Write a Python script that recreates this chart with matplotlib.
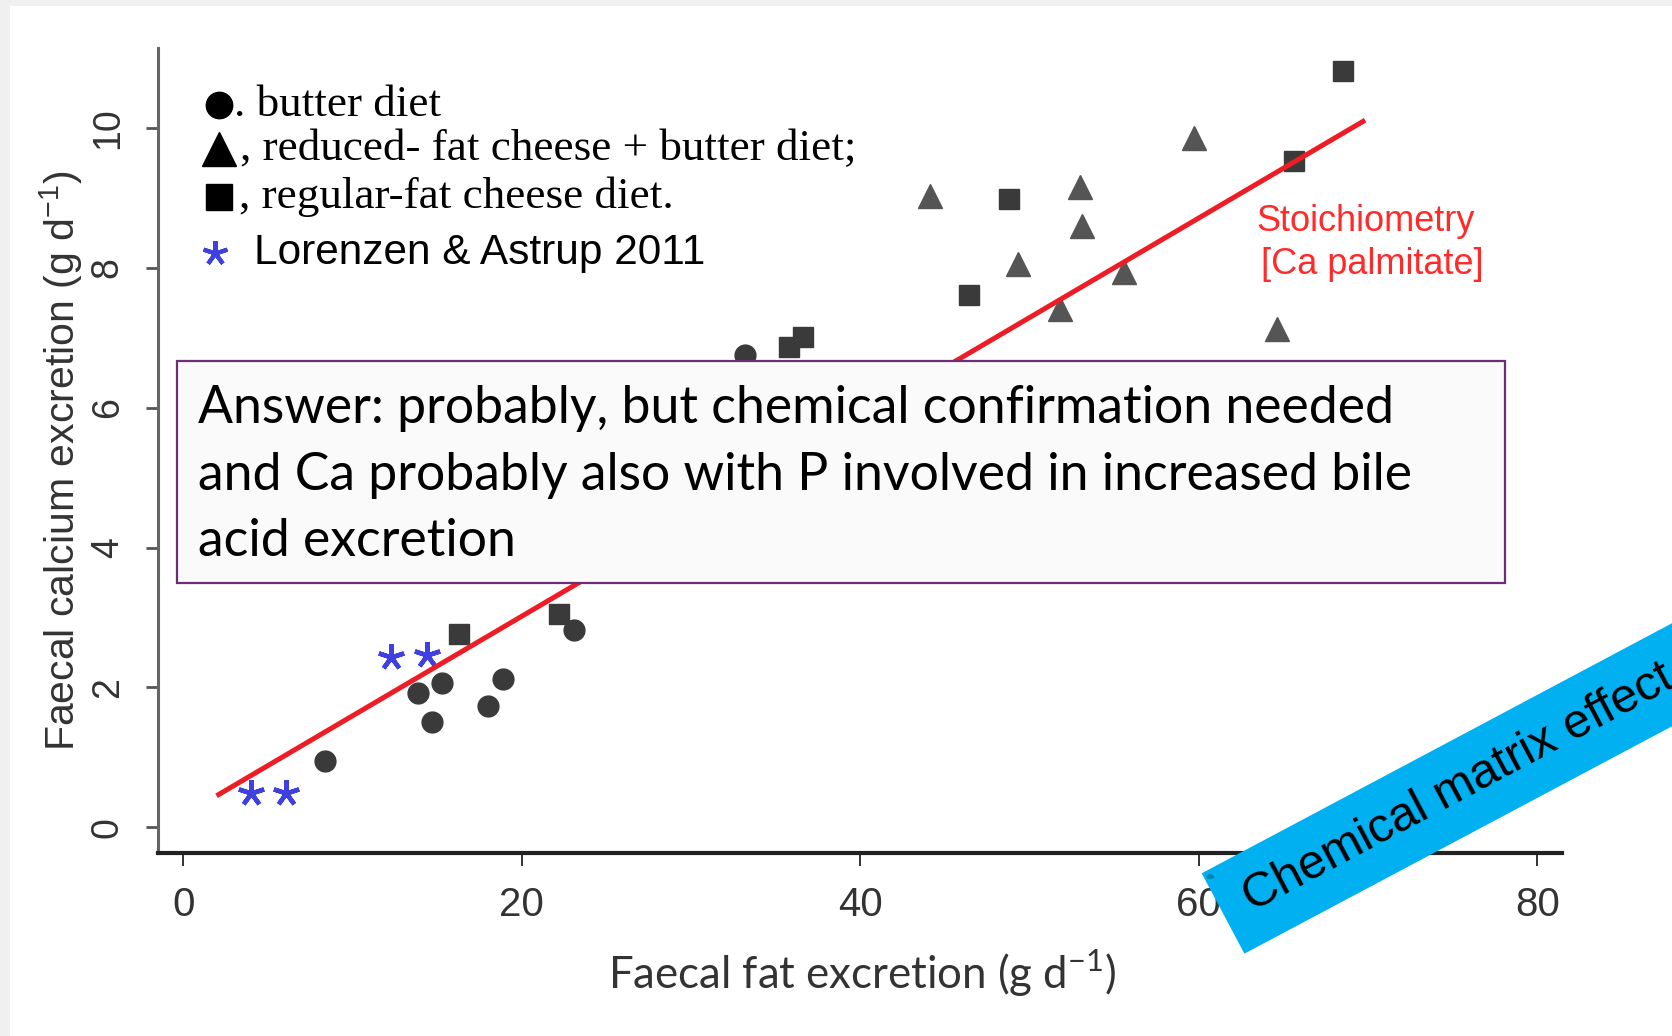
import matplotlib.pyplot as plt
from matplotlib.patches import Rectangle, Polygon, Circle
import numpy as np

W, H = 1672, 1036

# --- data ---
butter_x = [8.4, 13.9, 15.3, 14.7, 18.0, 18.9, 23.1, 33.2]
butter_y = [0.95, 1.92, 2.07, 1.51, 1.74, 2.12, 2.82, 6.75]

regular_x = [16.3, 22.2, 35.8, 36.6, 46.4, 48.8, 65.6, 68.5]
regular_y = [2.76, 3.05, 6.86, 7.01, 7.61, 8.98, 9.53, 10.81]

reduced_x = [44.1, 49.3, 51.8, 53.0, 53.1, 55.6, 59.7, 64.6]
reduced_y = [9.02, 8.05, 7.41, 9.16, 8.60, 7.94, 9.86, 7.13]

lorenzen_x = [4.0, 6.1, 12.3, 14.4]
lorenzen_y = [0.49, 0.49, 2.44, 2.47]

stoich_x = [2.1, 69.7]
stoich_y = [0.47, 10.09]

xticks = [0, 20, 40, 60, 80]
yticks = [0, 2, 4, 6, 8, 10]

legend_labels = ['. butter diet', ', reduced- fat cheese + butter diet;',
                 ', regular-fat cheese diet.', 'Lorenzen & Astrup 2011']

answer_lines = ['Answer: probably, but chemical confirmation needed',
                'and Ca probably also with P involved in increased bile',
                'acid excretion']

fig = plt.figure(figsize=(W / 100, H / 100), dpi=100)
fig.patch.set_facecolor('#f0f0f0')
fig.add_artist(Rectangle((10 / W, 0), 1, 1 - 6 / H, transform=fig.transFigure,
                         facecolor='white', edgecolor='none', zorder=0))

ax = fig.add_axes([157.8 / W, 1 - 853 / H, 1404 / W, 805 / H])
ax.set_facecolor('none')
ax.set_xlim(-1.5, 81.45)
ax.set_ylim(-0.366, 11.14)

ax.spines['top'].set_visible(False)
ax.spines['right'].set_visible(False)
ax.spines['bottom'].set_color('#222222')
ax.spines['bottom'].set_linewidth(3.0)
ax.spines['left'].set_color('#666666')
ax.spines['left'].set_linewidth(2.2)

ax.set_xticks(xticks)
ax.set_yticks(yticks)
ax.tick_params(axis='x', direction='out', length=9, width=1.4, color='#333333',
               pad=15, labelsize=29, labelcolor='#333333')
ax.tick_params(axis='y', direction='out', length=9, width=2.0, color='#555555',
               pad=14, labelsize=27, labelcolor='#333333')
for lab in ax.get_xticklabels():
    lab.set_family('Liberation Sans')
for lab in ax.get_yticklabels():
    lab.set_family('Liberation Sans')
    lab.set_rotation(90)
    lab.set_va('center')

# scatter series
ax.plot(butter_x, butter_y, 'o', ms=15, color='#3a3a3a', mec='#3a3a3a', zorder=3)
ax.plot(regular_x, regular_y, 's', ms=14.5, color='#3a3a3a', mec='#3a3a3a', zorder=3)
ax.plot(reduced_x, reduced_y, '^', ms=17, color='#555555', mec='#555555', zorder=3)
ax.plot(lorenzen_x, lorenzen_y, marker=(5, 2, 0), ls='none', ms=19, mew=3.2,
        color='#4040e0', zorder=3)
ax.plot(stoich_x, stoich_y, color='#ee1c24', lw=3.6, zorder=4)

ax.text(63.4, 8.66, 'Stoichiometry', color='#ff2a2a', fontsize=26,
        family='Liberation Sans', va='center', ha='left')
ax.text(63.7, 8.04, '[Ca palmitate]', color='#ff2a2a', fontsize=26,
        family='Liberation Sans', va='center', ha='left')

# legend typed in the corner
ax.plot(0.0433, 0.929, 'o', ms=19, color='black', transform=ax.transAxes, clip_on=False)
ax.plot(0.0433, 0.874, '^', ms=24, color='black', transform=ax.transAxes, clip_on=False)
ax.plot(0.0436, 0.8155, 's', ms=19, color='black', transform=ax.transAxes, clip_on=False)
ax.plot(0.041, 0.745, marker=(5, 2, 0), ms=18, mew=3, color='#4040e0',
        transform=ax.transAxes, clip_on=False)
ax.text(0.0545, 0.929, legend_labels[0], transform=ax.transAxes, fontsize=32.5,
        family='Liberation Serif', va='center', ha='left')
ax.text(0.0585, 0.874, legend_labels[1], transform=ax.transAxes, fontsize=32.5,
        family='Liberation Serif', va='center', ha='left')
ax.text(0.058, 0.8155, legend_labels[2], transform=ax.transAxes, fontsize=32.5,
        family='Liberation Serif', va='center', ha='left')
ax.text(0.0684, 0.745, legend_labels[3], transform=ax.transAxes, fontsize=30.5,
        family='Liberation Sans', va='center', ha='left')

# axis titles
fig.text(862 / W, 1 - 973.5 / H, 'Faecal fat excretion (g d$^{\\mathregular{-1}}$)',
         fontsize=31.5, family='Lato', color='#333333', ha='center', va='center')
fig.text(61 / W, 1 - 461 / H, 'Faecal calcium excretion (g d$^{\\mathregular{-1}}$)',
         fontsize=29.5, family='Liberation Sans', color='#333333', rotation=90,
         ha='center', va='center')

# answer box
fig.add_artist(Rectangle((177 / W, 1 - 583.3 / H), 1327.5 / W, 221.8 / H,
                         transform=fig.transFigure, facecolor='#fafafa',
                         edgecolor='#6b2d74', lw=1.6, zorder=5))
for line, base in zip(answer_lines, [423, 490, 556]):
    fig.text(198 / W, 1 - base / H, line, fontsize=37.3, family='Lato',
             color='black', ha='left', va='baseline', zorder=6)

# blue banner
ang = np.deg2rad(28)
u = np.array([np.cos(ang), -np.sin(ang)])
n = np.array([np.sin(ang), np.cos(ang)])
p0 = np.array([1201.7, 873.3])
thick = 91
corners = [p0, p0 + 800 * u, p0 + 800 * u + thick * n, p0 + thick * n]
fig.add_artist(Polygon([(c[0] / W, 1 - c[1] / H) for c in corners], closed=True,
                       transform=fig.transFigure, facecolor='#00b0f0',
                       edgecolor='none', zorder=7))
# small curl at the banner's left end
curl = p0 + 7 * n + 6 * u
fig.add_artist(Circle((curl[0] / W, 1 - curl[1] / H), 4 / W, transform=fig.transFigure,
                      facecolor='#0083b8', edgecolor='none', zorder=8))
tp = p0 + 0.5 * thick * n + 26 * u
fig.text(tp[0] / W, 1 - tp[1] / H, 'Chemical matrix effect', fontsize=35,
         family='Liberation Sans', color='black', rotation=28,
         rotation_mode='anchor', ha='left', va='center', zorder=8)

fig.savefig('out.png', dpi=100)
